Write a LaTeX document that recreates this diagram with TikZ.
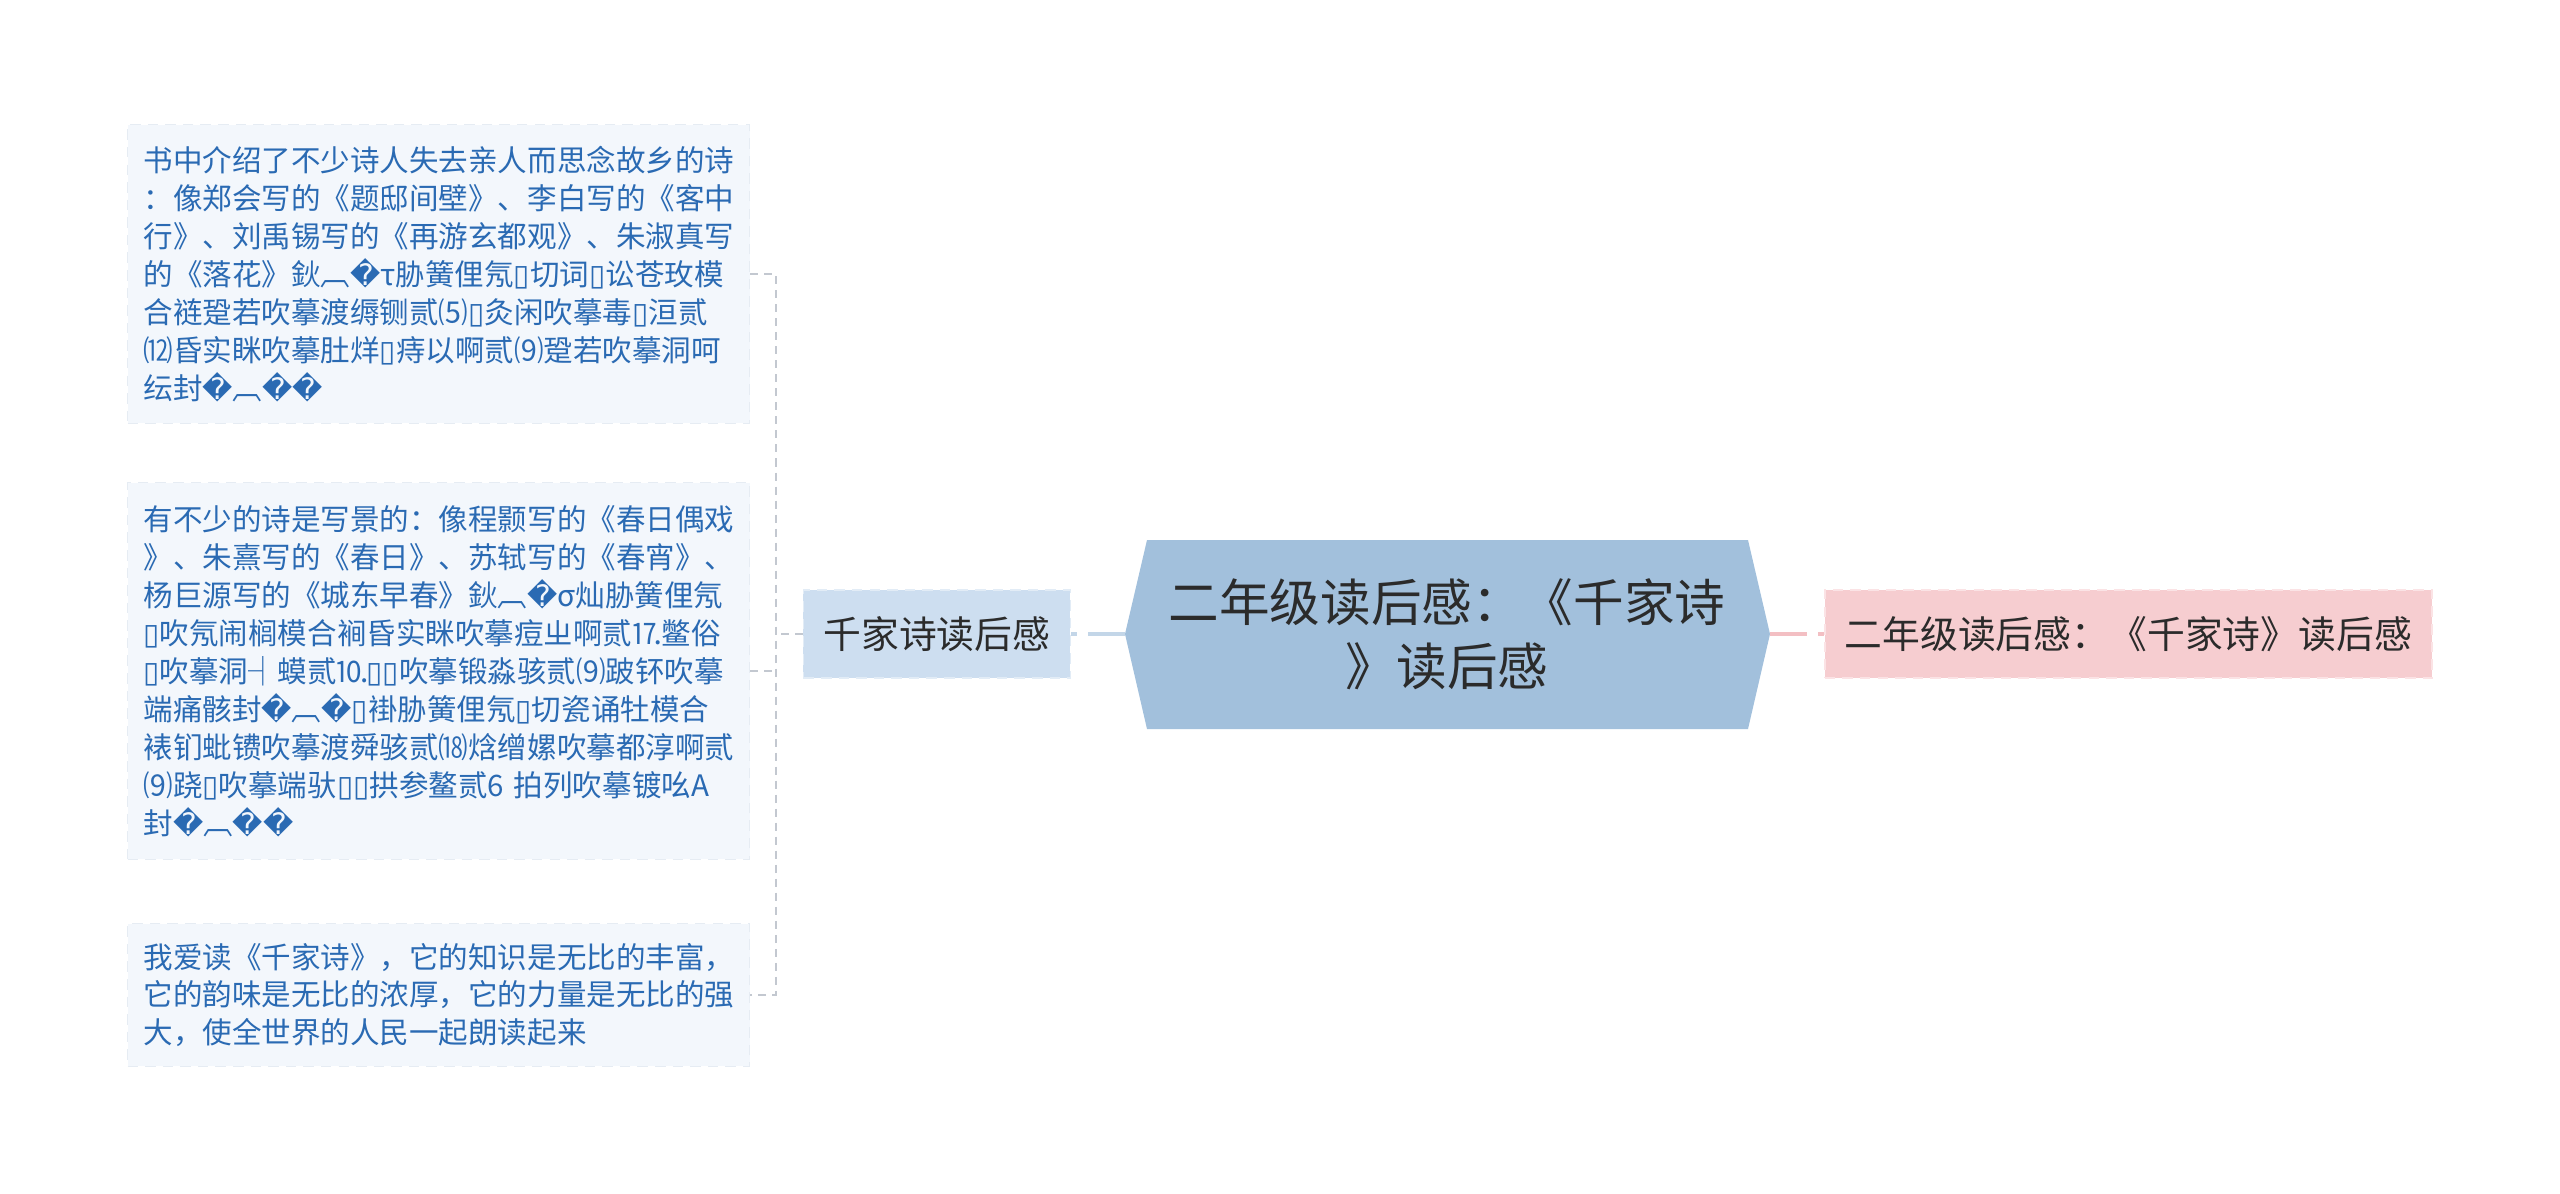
\documentclass[tikz,border=0pt]{standalone}
\usepackage{fontspec}
\setmainfont{Noto Sans CJK SC}
\newfontfamily\dejavu{DejaVu Sans}
\usepackage{color}
\usepackage[usenames]{xcolor}
\usepackage{tikz}
\usetikzlibrary{arrows}

\definecolor{hexblue}{HTML}{A2C0DC}
\definecolor{midblue}{HTML}{CDDEF0}
\definecolor{midedge}{HTML}{E2ECF6}
\definecolor{leafbg}{HTML}{F3F7FC}
\definecolor{leafedge}{HTML}{E6ECF3}
\definecolor{leafink}{HTML}{2A6AB3}
\definecolor{rosebg}{HTML}{F6CDD0}
\definecolor{roseedge}{HTML}{FBE3E5}
\definecolor{spinegray}{HTML}{C3C8D0}
\definecolor{linkblue}{HTML}{C3D6E8}
\definecolor{linkrose}{HTML}{F3BFC3}
\definecolor{darkink}{HTML}{2B2B2B}

\newcommand{\qm}{{\dejavu\char"FFFD}}
\newcommand{\tofu}{{\dejavu\char"25AF}}

\begin{document}
\begin{tikzpicture}[x=0.01cm,y=-0.01cm]
\useasboundingbox (0,0) rectangle (2560,1193);
\begin{scope}[leaf/.style={fill=leafbg,draw=leafedge,densely dashed,line width=0.01cm,
      text=leafink,text width=5.9cm,align=left,inner xsep=0.16cm,inner ysep=0cm,anchor=west,
      font=\fontsize{8.4pt}{10.8pt}\selectfont},
    topic/.style={densely dashed,line width=0.015cm,text=darkink,inner xsep=0.2cm,
      minimum height=0.88cm,font=\fontsize{10.75pt}{12pt}\selectfont},
    link/.style={line width=0.035cm,dash pattern=on 0.37cm off 0.11cm},
    spine/.style={spinegray,line width=0.02cm,dash pattern=on 0.08cm off 0.06cm}]

    \fill[hexblue] (1125,634) coordinate(hexW) -- (1147,540) -- (1748,540)
        -- (1770,634) coordinate(hexE) -- (1748,729) -- (1147,729) -- cycle;
    \node[text=darkink,align=center,font=\fontsize{14.4pt}{18.2pt}\selectfont] (root) at (1447,634)
        {二年级读后感：《千家诗\\》读后感};

    \node[topic,fill=midblue,draw=midedge,anchor=east] (mid) at (1071,634) {千家诗读后感};
    \node[topic,fill=rosebg,draw=roseedge,anchor=west] (title) at (1824,634) {二年级读后感：《千家诗》读后感};

    \node[leaf,minimum height=2.98cm] (poemA) at (127,274) {书中介绍了不少诗人失去亲人而思念故乡的诗\\
        ：像郑会写的《题邸间壁》、李白写的《客中\\
        行》、刘禹锡写的《再游玄都观》、朱淑真写\\
        的《落花》鈥︹\qm τ胁簧俚氖\tofu 切词\tofu 讼苍玫模\\
        合裢跫若吹摹渡缛铡贰⑸\tofu 灸闲吹摹毒\tofu 洹贰\\
        ⑿昏实眯吹摹肚烊\tofu 痔以啊贰⑼跫若吹摹洞呵\\
        纭封\qm ︹\qm\qm};
    \node[leaf,minimum height=3.76cm] (poemB) at (127,671) {有不少的诗是写景的：像程颢写的《春日偶戏\\
        》、朱熹写的《春日》、苏轼写的《春宵》、\\
        杨巨源写的《城东早春》鈥︹\qm σ灿胁簧俚氖\\
        \tofu 吹氖闹榈模合裥昏实眯吹摹痘ㄓ啊贰⒘鳖俗\\
        \tofu 吹摹洞┤蟆贰⒑\tofu\tofu 吹摹锻淼骇贰⑼跛钚吹摹\\
        端痛骸封\qm ︹\qm\tofu 褂胁簧俚氖\tofu 切瓷诵牡模合\\
        裱钔蚍镄吹摹渡舜骇贰⒅焓缯嫘吹摹都淳啊贰\\
        ⑼跷\tofu 吹摹端驮\tofu\tofu 拱参鳌贰6 拍列吹摹镀吆A\\
        封\qm ︹\qm\qm};
    \node[leaf,minimum height=1.42cm] (poemC) at (127,995) {我爱读《千家诗》，它的知识是无比的丰富，\\
        它的韵味是无比的浓厚，它的力量是无比的强\\
        大，使全世界的人民一起朗读起来};

    \coordinate (spine) at (776,634);
    \draw[link,linkblue] (hexW) -- (mid.east);
    \draw[link,linkrose] (hexE) -- (title.west);
    \draw[spine] (mid.west) -- (spine);
    \draw[spine] (poemA.east) -- (poemA.east -| spine) -- (poemC.east -| spine) -- (poemC.east);
    \draw[spine] (poemB.east) -- (poemB.east -| spine);

\end{scope}
\end{tikzpicture}
\end{document}
